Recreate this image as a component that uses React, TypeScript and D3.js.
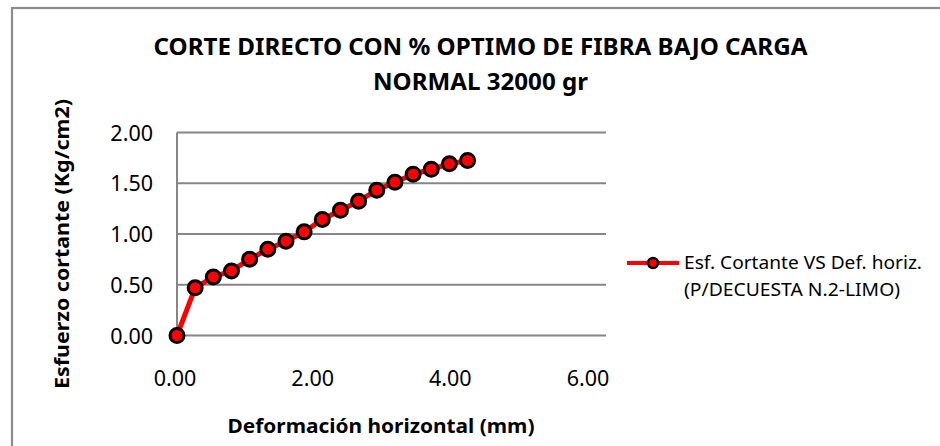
import * as d3 from "d3";

// deformation (mm) and shear stress (kg/cm2)
const deformacion = [
  0, 0.254, 0.508, 0.762, 1.016, 1.27, 1.524, 1.778, 2.032, 2.286, 2.54,
  2.794, 3.048, 3.302, 3.556, 3.81, 4.064,
];
const esfuerzo = [
  0, 0.47, 0.577, 0.636, 0.752, 0.85, 0.929, 1.021, 1.143, 1.234, 1.323,
  1.432, 1.51, 1.589, 1.638, 1.691, 1.724,
];
const xTicks = [0, 2, 4, 6];
const yTicks = [0, 0.5, 1, 1.5, 2];
const titleLines = [
  "CORTE DIRECTO CON % OPTIMO DE FIBRA BAJO CARGA",
  "NORMAL 32000 gr",
];
const legendLines = [
  "Esf. Cortante VS Def. horiz.",
  "(P/DECUESTA N.2-LIMO)",
];

const width = 940,
  height = 446;
const margin = { top: 132.5, left: 177, right: 606, bottom: 335.5 };
const font = "'Noto Sans', 'Open Sans', sans-serif";

const App = () => {
  const x = d3.scaleLinear().domain([0, 6]).range([margin.left, margin.right]);
  // Excel draws the category labels a little left of the grid positions
  const xLabel = d3.scaleLinear().domain([0, 6]).range([175, 588]);
  const y = d3.scaleLinear().domain([0, 2]).range([margin.bottom, margin.top]);

  const data = deformacion.map((d, i) => ({ x: d, y: esfuerzo[i] }));
  const line = d3
    .line<{ x: number; y: number }>()
    .x((d) => x(d.x))
    .y((d) => y(d.y));

  return (
    <svg
      width={width}
      height={height}
      style={{ position: "absolute", left: 0, top: 0, background: "#fff" }}
      fontFamily={font}
    >
      <rect x={12} y={8} width={940} height={460} fill="#fff" stroke="#8c8c8c" strokeWidth={2.2} />

      {titleLines.map((t, i) => (
        <text
          key={t}
          x={480.5}
          y={54.5 + i * 35}
          textAnchor="middle"
          fontWeight="bold"
          fontSize={23}
          textLength={i === 0 ? 654 : 215}
          lengthAdjust="spacingAndGlyphs"
          fill="#000"
        >
          {t}
        </text>
      ))}

      {/* grid */}
      {yTicks.map((t) => (
        <line key={t} x1={margin.left} x2={margin.right} y1={y(t)} y2={y(t)} stroke="#868686" strokeWidth={2} />
      ))}
      <line x1={margin.left} x2={margin.left} y1={margin.top} y2={margin.bottom} stroke="#868686" strokeWidth={2} />

      {yTicks.map((t) => (
        <text key={t} x={153} y={y(t) + 8} textAnchor="end" fontSize={21.5} fill="#000">
          {d3.format(".2f")(t)}
        </text>
      ))}
      {xTicks.map((t) => (
        <text key={t} x={xLabel(t)} y={386} textAnchor="middle" fontSize={21.5} fill="#000">
          {d3.format(".2f")(t)}
        </text>
      ))}

      <text
        x={381}
        y={433}
        textAnchor="middle"
        fontWeight="bold"
        fontSize={19}
        textLength={307}
        lengthAdjust="spacingAndGlyphs"
      >
        Deformación horizontal (mm)
      </text>
      <text
        transform="translate(69,244) rotate(-90)"
        textAnchor="middle"
        fontWeight="bold"
        fontSize={19}
        textLength={290}
        lengthAdjust="spacingAndGlyphs"
      >
        Esfuerzo cortante (Kg/cm2)
      </text>

      <path d={line(data) ?? ""} fill="none" stroke="#ff0000" strokeWidth={5} strokeLinejoin="round" />
      {data.map((d, i) => (
        <circle key={i} cx={x(d.x)} cy={y(d.y)} r={7} fill="#ff0000" stroke="#000" strokeWidth={3} />
      ))}

      {/* legend */}
      <line x1={627} x2={679} y1={263} y2={263} stroke="#ff0000" strokeWidth={4} />
      <circle cx={653} cy={263} r={5} fill="#ff0000" stroke="#000" strokeWidth={2.5} />
      {legendLines.map((t, i) => (
        <text
          key={t}
          x={684}
          y={269 + i * 27}
          fontSize={17.5}
          textLength={i === 0 ? 238 : 216}
          lengthAdjust="spacingAndGlyphs"
          fill="#000"
        >
          {t}
        </text>
      ))}
    </svg>
  );
};

export default App;
